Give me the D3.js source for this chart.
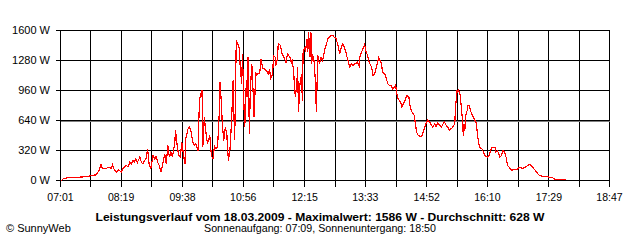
<!DOCTYPE html>
<html>
<head>
<meta charset="utf-8">
<script src="https://cdn.jsdelivr.net/npm/d3@7"></script>
<style>
  html, body { margin: 0; padding: 0; background: #fff; }
  svg { display: block; }
  text { font-family: "Liberation Sans", Arial, sans-serif; fill: #000; }
</style>
</head>
<body>
<div id="chart"></div>
<script>
// ---- data (minutes since midnight, watts) ----
const minutes = [
  422,425,433,445,456,461,467,471,473,475,480,484,486,488,490,493,495,497,499,501,
  503,505,508,510,512,514,516,518,520,523,525,527,529,531,533,535,537,540,542,544,
  546,548,550,553,555,557,559,561,563,565,568,569,571,573,575,577,579,581,582,585,
  587,589,591,593,595,598,599,600,601,603,604,606,608,610,613,615,617,619,621,623,
  625,626,628,629,631,633,635,636,637,639,641,643,644,645,646,647,649,651,652,654,
  655,657,658,660,661,662,664,665,667,669,670,672,673,675,677,679,681,683,686,688,
  690,691,693,694,695,697,698,700,701,704,705,706,708,709,711,713,716,718,719,721,
  722,723,725,726,727,729,731,732,733,735,736,738,739,740,742,743,744,745,747,749,
  750,751,752,754,756,758,761,763,765,767,769,771,773,775,776,778,780,782,784,786,
  788,790,793,795,797,799,801,803,805,806,808,810,812,814,816,818,821,823,825,827,
  829,830,832,834,835,838,840,842,844,846,848,851,852,853,855,857,859,860,862,864,
  866,869,870,872,874,876,878,879,881,884,886,888,890,892,893,896,898,900,902,904,
  906,908,911,913,915,917,919,921,923,925,928,929,931,932,933,935,936,938,939,940,
  941,942,944,945,947,948,950,952,954,956,957,959,961,963,965,967,970,972,974,976,
  978,980,981,983,986,988,990,992,994,996,998,1001,1003,1007,1009,1011,1013,1015,1018,1020,
  1022,1024,1026,1028,1031,1033,1035,1037,1041,1045,1050,1054,1056,1060,1071
];
const watts = [
  0,21,35,35,43,53,61,114,171,125,131,142,125,167,117,89,114,107,89,125,
  142,160,149,195,178,213,195,231,195,249,195,178,213,231,338,178,125,267,231,256,
  195,160,89,195,284,178,373,249,302,249,409,533,373,267,249,409,284,178,444,551,
  576,515,409,373,391,320,675,871,907,960,355,675,515,391,480,267,231,363,338,355,
  693,1049,818,605,427,569,480,320,213,338,640,1067,711,427,942,1493,1458,1405,1227,1031,
  1351,782,569,1067,889,1316,498,942,1245,889,675,1155,1120,1138,1138,1298,1191,1191,1173,1138,
  1191,1085,1120,1173,1333,1316,1227,1298,1458,1440,1387,1351,1316,1298,1262,1351,1316,1245,1298,1138,
  995,889,1049,1209,729,1031,1138,853,1369,1422,1369,1511,1369,1586,1316,1582,1245,1351,1280,1031,
  729,1049,1333,1245,1316,1280,1405,1458,1511,1536,1547,1547,1529,1529,1493,1440,1351,1422,1458,1422,
  1369,1298,1209,1245,1227,1245,1245,1262,1227,1316,1369,1405,1451,1369,1333,1262,1209,1120,1138,1209,
  1262,1316,1280,1245,1155,1138,1085,1031,1013,1013,978,995,1031,942,871,853,818,782,818,853,
  907,889,818,747,718,693,569,515,480,469,480,533,587,622,647,622,587,569,605,576,
  611,597,569,605,622,587,569,533,551,562,605,782,967,942,960,907,818,640,480,605,
  533,693,747,800,800,747,711,675,640,605,498,391,338,338,302,267,249,267,320,355,
  355,355,302,320,249,267,320,302,249,160,142,107,114,114,125,142,142,125,142,149,
  160,171,160,142,114,89,71,53,46,43,35,29,18,7,7
];
const xTickLabels = ["07:01","08:19","09:38","10:56","12:15","13:33","14:52","16:10","17:29","18:47"];
const yTickValues = [0, 320, 640, 960, 1280, 1600];
const maxValue = 1586;
const averageValue = 628;
const titleText = "Leistungsverlauf vom 18.03.2009 - Maximalwert: 1586 W - Durchschnitt: 628 W";
const subtitleText = "Sonnenaufgang: 07:09, Sonnenuntergang: 18:50";
const creditText = "\u00A9 SunnyWeb";

// ---- setup ----
const W = 640, H = 240;
const toMin = s => { const [h, m] = s.split(":").map(Number); return h * 60 + m; };
const tStart = toMin(xTickLabels[0]);
const tEnd = toMin(xTickLabels[xTickLabels.length - 1]);

const x = d3.scaleLinear().domain([tStart, tEnd]).range([60.5, 609.5]);
const y = d3.scaleLinear().domain([0, 1600]).range([180.5, 30.5]);
const px = v => Math.round(v - 0.5) + 0.5;

const svg = d3.select("#chart").append("svg")
  .attr("width", W).attr("height", H);

svg.append("rect").attr("width", W).attr("height", H).attr("fill", "#fff");

// vertical grid lines: label positions and midpoints between them
const labelTimes = xTickLabels.map(toMin);
const gridTimes = [];
labelTimes.forEach((t, i) => {
  gridTimes.push(t);
  if (i < labelTimes.length - 1) gridTimes.push((t + labelTimes[i + 1]) / 2);
});

const grid = svg.append("g").attr("shape-rendering", "crispEdges");
grid.selectAll("line.v").data(gridTimes).join("line")
  .attr("class", "v")
  .attr("x1", d => px(x(d))).attr("x2", d => px(x(d)))
  .attr("y1", y(1600)).attr("y2", y(0) + 6)
  .attr("stroke", "#000").attr("stroke-width", 1);

grid.selectAll("line.h").data(yTickValues).join("line")
  .attr("class", "h")
  .attr("x1", x(tStart) - 5).attr("x2", px(x(tEnd)))
  .attr("y1", d => px(y(d))).attr("y2", d => px(y(d)))
  .attr("stroke", "#000").attr("stroke-width", 1);

// average line
grid.append("line")
  .attr("x1", x(tStart)).attr("x2", px(x(tEnd)))
  .attr("y1", px(y(averageValue))).attr("y2", px(y(averageValue)))
  .attr("stroke", "#808080").attr("stroke-width", 1);

// y labels
svg.selectAll("text.yl").data(yTickValues).join("text")
  .attr("class", "yl")
  .attr("x", 50).attr("y", d => px(y(d)) + 3.5)
  .attr("text-anchor", "end")
  .attr("font-size", "11px")
  .text(d => d + " W");

// x labels
svg.selectAll("text.xl").data(xTickLabels).join("text")
  .attr("class", "xl")
  .attr("x", d => x(toMin(d)))
  .attr("y", 200.5)
  .attr("text-anchor", "middle")
  .attr("font-size", "10.5px")
  .text(d => d);

// power line
const data = minutes.map((m, i) => ({ t: m, v: watts[i] }));
svg.append("path")
  .datum(data)
  .attr("fill", "none")
  .attr("stroke", "#ff0000")
  .attr("stroke-width", 1.2)
  .attr("shape-rendering", "crispEdges")
  .attr("d", d3.line().x(d => x(d.t)).y(d => y(d.v)));

// titles
svg.append("text")
  .attr("x", 320).attr("y", 220.5)
  .attr("text-anchor", "middle")
  .attr("font-size", "11px").attr("font-weight", "bold")
  .attr("textLength", 449).attr("lengthAdjust", "spacingAndGlyphs")
  .text(titleText);

svg.append("text")
  .attr("x", 320).attr("y", 232)
  .attr("text-anchor", "middle")
  .attr("font-size", "11px")
  .attr("textLength", 232).attr("lengthAdjust", "spacingAndGlyphs")
  .text(subtitleText);

svg.append("text")
  .attr("x", 6).attr("y", 232)
  .attr("font-size", "11px")
  .text(creditText);
</script>
</body>
</html>
